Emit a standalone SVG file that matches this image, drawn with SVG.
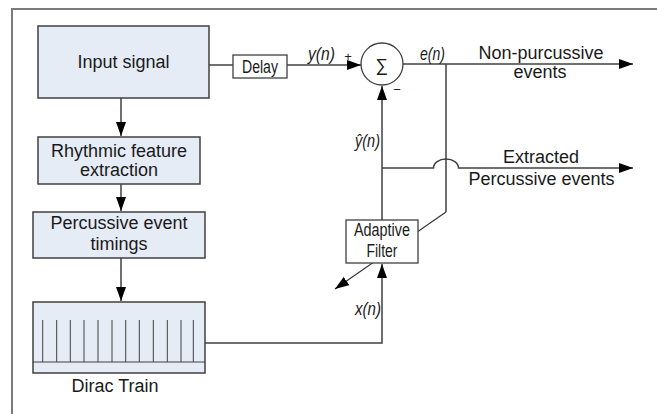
<svg xmlns="http://www.w3.org/2000/svg" width="657" height="414" viewBox="0 0 657 414">
<style>
.frame{fill:none;stroke:#7a7a7a;stroke-width:2}
.box{fill:#e6ecf6;stroke:#404040;stroke-width:1.5}
.wbox{fill:#fff;stroke:#404040;stroke-width:1.3}
.ln{fill:none;stroke:#404040;stroke-width:1.5}
.thin{fill:none;stroke:#303030;stroke-width:1.1}
.sp{stroke:#404040;stroke-width:1}
.t{font-family:"Liberation Sans",Arial,sans-serif;font-size:18px;fill:#1a1a1a;text-anchor:middle}
.c{font-family:"Liberation Sans",Arial,sans-serif;font-size:17.5px;fill:#1a1a1a;text-anchor:middle}
.i{font-family:"Liberation Sans",Arial,sans-serif;font-size:17.5px;font-style:italic;fill:#1a1a1a}
.s{font-family:"Liberation Sans",Arial,sans-serif;font-size:13px;fill:#1a1a1a;text-anchor:middle}
</style>
<defs>
<marker id="ah" markerUnits="userSpaceOnUse" markerWidth="15" markerHeight="10" refX="14" refY="5" orient="auto">
<path d="M0,0 L14,5 L0,10 z" fill="#000"/>
</marker>
</defs>
<rect width="657" height="414" fill="#fff"/>
<path class="frame" d="M12,414 V9 H657"/>
<g id="connectors">
<line class="ln" x1="121" y1="98" x2="121" y2="136" marker-end="url(#ah)"/>
<line class="ln" x1="121" y1="184" x2="121" y2="211" marker-end="url(#ah)"/>
<line class="ln" x1="121" y1="258" x2="121" y2="301" marker-end="url(#ah)"/>
<line class="ln" x1="209" y1="65" x2="233" y2="65"/>
<line class="ln" x1="287" y1="65" x2="361" y2="65" marker-end="url(#ah)"/>
<line class="ln" x1="403" y1="64" x2="633" y2="64" marker-end="url(#ah)"/>
<line class="ln" x1="446" y1="64" x2="446" y2="212"/>
<line class="thin" x1="446" y1="212" x2="335" y2="289" marker-end="url(#ah)"/>
<line class="ln" x1="382" y1="220" x2="382" y2="86" marker-end="url(#ah)"/>
<path class="ln" d="M382,168 H433.5 A12.5,9 0 0 1 458.5,168 H633" marker-end="url(#ah)"/>
<path class="ln" d="M205,343 H382 V264" marker-end="url(#ah)"/>
</g>
<g id="input-signal">
<rect class="box" x="38" y="26" width="171" height="72"/>
<text class="t" x="123.5" y="68">Input signal</text>
</g>
<g id="rhythmic-feature-extraction">
<rect class="box" x="38" y="137" width="162" height="47"/>
<text class="t" x="119" y="157">Rhythmic feature</text>
<text class="t" x="119" y="176">extraction</text>
</g>
<g id="percussive-event-timings">
<rect class="box" x="33" y="212" width="172" height="46"/>
<text class="t" x="119" y="229">Percussive event</text>
<text class="t" x="119" y="250">timings</text>
</g>
<g id="dirac-train">
<rect class="box" x="33" y="302" width="172" height="71"/>
<line class="sp" x1="33" y1="362" x2="205" y2="362"/>
<g class="sp">
<line x1="42.7" y1="320" x2="42.7" y2="362"/>
<line x1="56.7" y1="320" x2="56.7" y2="362"/>
<line x1="70.3" y1="320" x2="70.3" y2="362"/>
<line x1="84" y1="320" x2="84" y2="362"/>
<line x1="98" y1="320" x2="98" y2="362"/>
<line x1="112" y1="320" x2="112" y2="362"/>
<line x1="125.7" y1="320" x2="125.7" y2="362"/>
<line x1="139.3" y1="320" x2="139.3" y2="362"/>
<line x1="153.3" y1="320" x2="153.3" y2="362"/>
<line x1="167.3" y1="320" x2="167.3" y2="362"/>
<line x1="181" y1="320" x2="181" y2="362"/>
<line x1="193.3" y1="320" x2="193.3" y2="362"/>
</g>
<text class="t" x="115" y="392">Dirac Train</text>
</g>
<g id="delay">
<rect class="wbox" x="233" y="55" width="54" height="23"/>
<text class="c" x="260" y="73" textLength="36" lengthAdjust="spacingAndGlyphs">Delay</text>
</g>
<g id="sum">
<circle class="wbox" cx="382" cy="64" r="21"/>
<text class="c" x="382" y="71" font-size="21">∑</text>
<text class="s" x="348" y="61">+</text>
<text class="s" x="397" y="94">−</text>
</g>
<g id="adaptive-filter">
<rect class="wbox" x="346" y="220" width="72" height="43"/>
<text class="c" x="382" y="236" textLength="56" lengthAdjust="spacingAndGlyphs">Adaptive</text>
<text class="c" x="382" y="257" textLength="31" lengthAdjust="spacingAndGlyphs">Filter</text>
</g>
<g id="labels">
<text class="i" x="308" y="60" textLength="27" lengthAdjust="spacingAndGlyphs">y(n)</text>
<text class="i" x="420" y="60" textLength="25" lengthAdjust="spacingAndGlyphs">e(n)</text>
<text class="i" x="355" y="147" textLength="25" lengthAdjust="spacingAndGlyphs">ŷ(n)</text>
<text class="i" x="355" y="315" textLength="26" lengthAdjust="spacingAndGlyphs">x(n)</text>
<text class="t" x="541" y="59">Non-purcussive</text>
<text class="t" x="540" y="78">events</text>
<text class="t" x="541" y="163">Extracted</text>
<text class="t" x="541.5" y="185">Percussive events</text>
</g>
</svg>
